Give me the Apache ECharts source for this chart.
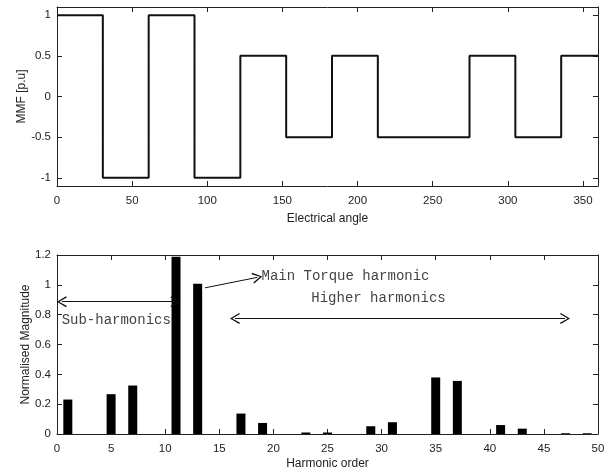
<!DOCTYPE html>
<html>
<head>
<meta charset="utf-8">
<script src="https://cdn.jsdelivr.net/npm/echarts@6/dist/echarts.min.js"></script>
<style>
html,body{margin:0;padding:0;background:#fff;}
#chart{width:610px;height:474px;}
</style>
</head>
<body>
<div id="chart"></div>
<script>
// ---- Top panel data: MMF step waveform (value held from each angle until the next) ----
const angles = [0, 30.5, 61, 91.5, 122, 152.5, 183, 213.5, 274.5, 305, 335.5, 360];
const mmf    = [1, -1, 1, -1, 0.5, -0.5, 0.5, -0.5, 0.5, -0.5, 0.5, 0.5];
const angleTicks = [0, 50, 100, 150, 200, 250, 300, 350];
const mmfTicks = [-1, -0.5, 0, 0.5, 1];

// ---- Bottom panel data: harmonic spectrum ----
const harmonicOrder = [1, 5, 7, 11, 13, 17, 19, 23, 25, 29, 31, 35, 37, 41, 43, 47, 49];
const magnitude     = [0.231, 0.267, 0.325, 1.189, 1.007, 0.137, 0.074, 0.010, 0.010, 0.052, 0.079, 0.379, 0.356, 0.060, 0.036, 0.005, 0.005];
const orderTicks = [0, 5, 10, 15, 20, 25, 30, 35, 40, 45, 50];
const magTicks = [0, 0.2, 0.4, 0.6, 0.8, 1, 1.2];

const chart = echarts.init(document.getElementById('chart'), null, {renderer: 'canvas'});

const axisCol = '#222';
const sans = 'Liberation Sans';
const mono = 'Liberation Mono';

function axisBase(extra, labelMargin) {
  return Object.assign({
    type: 'value',
    nameMoveOverlap: false,
    axisLine: {show: true, onZero: false, lineStyle: {color: axisCol, width: 1}},
    axisTick: {show: true, inside: true, length: 5, lineStyle: {color: axisCol, width: 1}},
    splitLine: {show: false},
    axisLabel: {color: '#222', fontFamily: sans, fontSize: 11.5, margin: labelMargin || 8},
    nameTextStyle: {color: '#222', fontFamily: sans, fontSize: 12}
  }, extra);
}

function ticked(base, values, showLabel) {
  base.axisTick.customValues = values;
  base.axisLabel.customValues = values;
  base.axisLabel.show = showLabel;
  return base;
}

const chevron = 'path://M0,9.2 L5,0 L10,9.2 L8.9,10 L5,2.3 L1.1,10 Z';

const pairs = angles.map((a, i) => [a, mmf[i]]);
const bars = harmonicOrder.map((h, i) => [h, magnitude[i]]);

const option = {
  animation: false,
  backgroundColor: '#fff',
  grid: [
    {left: 57, top: 7, width: 541, height: 179, show: false},
    {left: 57, top: 255, width: 541, height: 179, show: false}
  ],
  xAxis: [
    ticked(axisBase({gridIndex: 0, min: 0, max: 360, position: 'bottom', name: 'Electrical angle',
      nameLocation: 'middle', nameGap: 27}, 9), angleTicks, true),
    ticked(axisBase({gridIndex: 0, min: 0, max: 360, position: 'top'}), angleTicks, false),
    ticked(axisBase({gridIndex: 1, min: 0, max: 50, position: 'bottom', name: 'Harmonic order',
      nameLocation: 'middle', nameGap: 24}, 9), orderTicks, true),
    ticked(axisBase({gridIndex: 1, min: 0, max: 50, position: 'top'}), orderTicks, false)
  ],
  yAxis: [
    ticked(axisBase({gridIndex: 0, min: -1.1, max: 1.1, position: 'left', name: 'MMF [p.u]',
      nameLocation: 'middle', nameGap: 29}, 6), mmfTicks, true),
    ticked(axisBase({gridIndex: 0, min: -1.1, max: 1.1, position: 'right'}), mmfTicks, false),
    ticked(axisBase({gridIndex: 1, min: 0, max: 1.2, position: 'left', name: 'Normalised Magnitude',
      nameLocation: 'middle', nameGap: 25}, 6), magTicks, true),
    ticked(axisBase({gridIndex: 1, min: 0, max: 1.2, position: 'right'}), magTicks, false)
  ],
  series: [
    {
      type: 'line', xAxisIndex: 0, yAxisIndex: 0, data: pairs, step: 'end',
      symbol: 'none', lineStyle: {color: '#111', width: 2}
    },
    {
      type: 'bar', xAxisIndex: 2, yAxisIndex: 2, data: bars, barWidth: 9,
      itemStyle: {color: '#000'},
      markLine: {
        silent: true,
        symbol: [chevron, chevron],
        symbolSize: [11, 10],
        lineStyle: {color: '#111', width: 1, type: 'solid'},
        label: {show: false},
        data: [
          [{coord: [0.45, 0.887]}, {coord: [10.95, 0.887]}],
          [{coord: [16.45, 0.775]}, {coord: [46.95, 0.775]}],
          [{coord: [13.68, 0.98], symbol: 'none'}, {coord: [18.51, 1.05]}]
        ]
      },
      markPoint: {
        silent: true,
        symbol: 'circle', symbolSize: 0,
        itemStyle: {color: 'transparent'},
        label: {show: true, position: 'right', distance: 0, color: '#444', fontFamily: mono, fontSize: 14},
        data: [
          {coord: [0.43, 0.764], label: {formatter: 'Sub-harmonics'}},
          {coord: [18.9, 1.059], label: {formatter: 'Main Torque harmonic'}},
          {coord: [23.5, 0.913], label: {formatter: 'Higher harmonics'}}
        ]
      }
    }
  ]
};

chart.setOption(option);
</script>
</body>
</html>
